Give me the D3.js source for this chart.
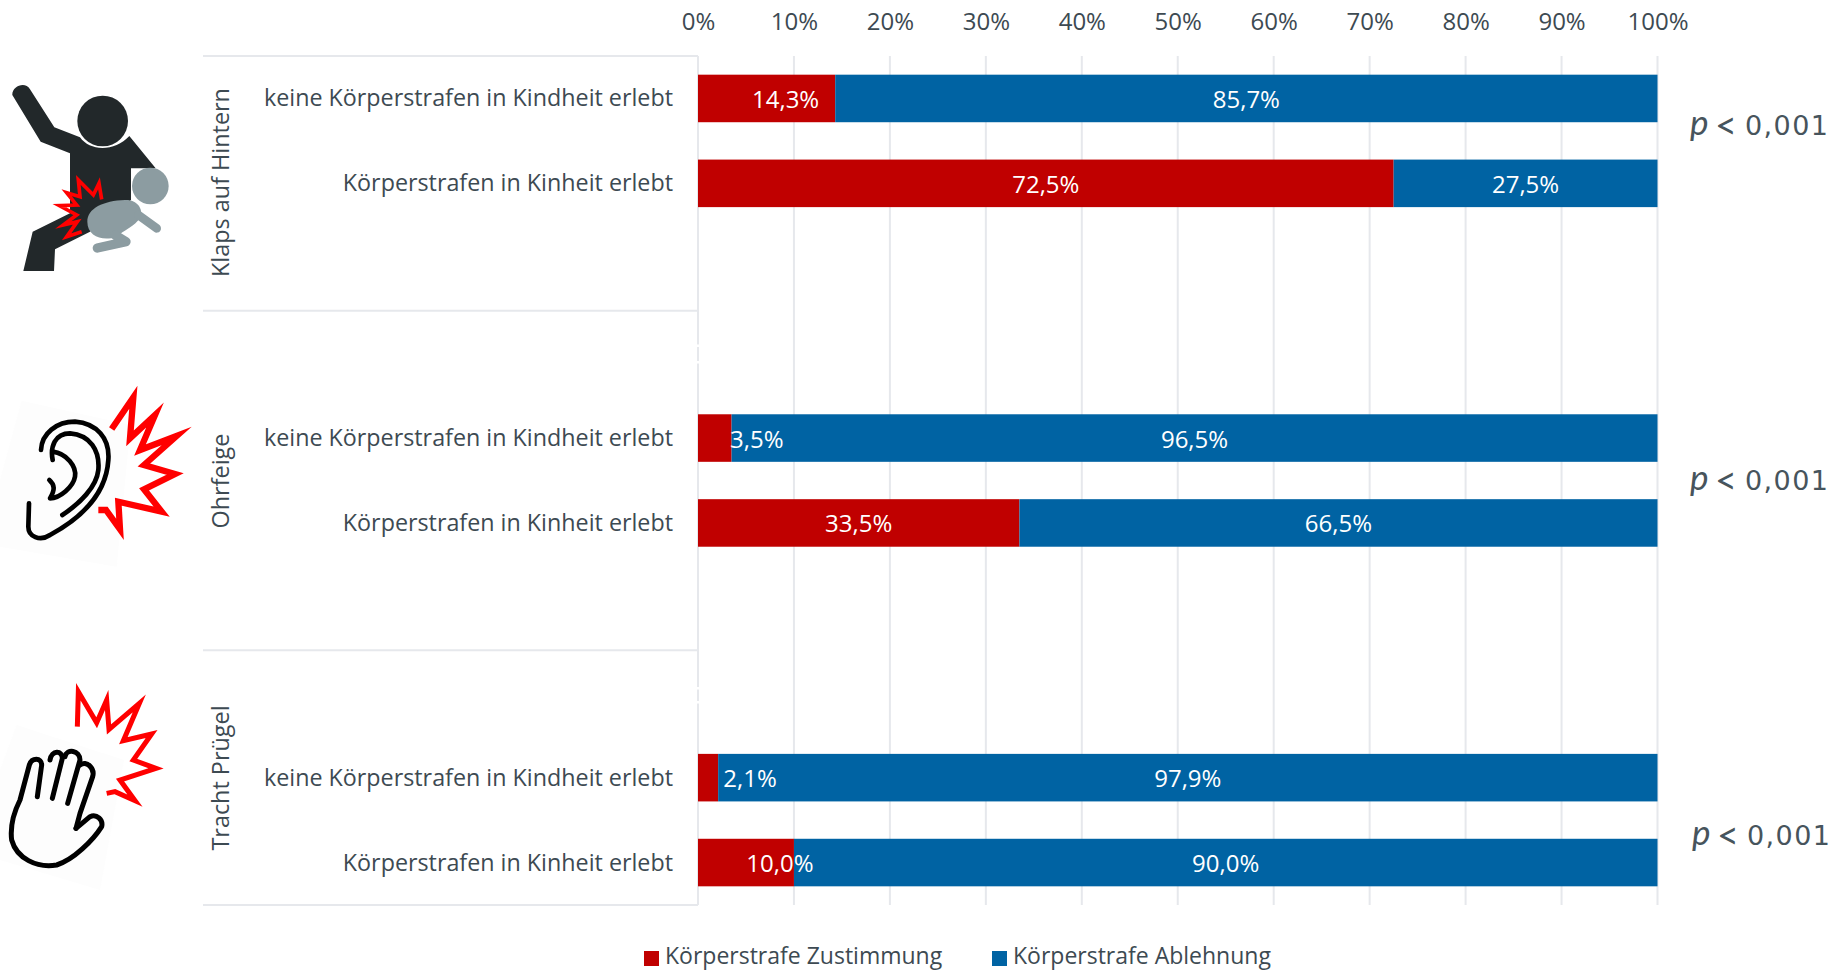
<!DOCTYPE html>
<html lang="de">
<head>
<meta charset="utf-8">
<title>Körperstrafen: Zustimmung und Ablehnung</title>
<script src="https://cdn.jsdelivr.net/npm/d3@7/dist/d3.min.js"></script>
<style>
  html, body { margin: 0; padding: 0; background: #fff; overflow: hidden; }
  svg { display: block; }
  text { font-family: "Open Sans", sans-serif; fill: #3d4a52; }
</style>
</head>
<body>
<svg id="chart" width="1843" height="970"></svg>
<script>
// Survey data: one pair of rows for each form of corporal punishment
const groups = ["Klaps auf Hintern", "Ohrfeige", "Tracht Prügel"];
const rowLabels = ["keine Körperstrafen in Kindheit erlebt", "Körperstrafen in Kinheit erlebt"];
const seriesNames = ["Körperstrafe Zustimmung", "Körperstrafe Ablehnung"];
const seriesColors = ["#c00000", "#0063a3"];
const zustimmung = [14.3, 72.5, 3.5, 33.5, 2.1, 10.0];
const ablehnung = [85.7, 27.5, 96.5, 66.5, 97.9, 90.0];
const pLabels = ["0,001", "0,001", "0,001"];
const tickValues = [0, 10, 20, 30, 40, 50, 60, 70, 80, 90, 100];
// Narrow segments carry their label further right, as px nudges per row
const zustimmungNudge = [19, 0, 42, 0, 42, 34];

const svg = d3.select("#chart");
const ink = "#3d4a52";
const gridColor = "#e6e8ec";

const x = d3.scaleLinear().domain([0, 100]).range([698, 1657.5]);

// Ten equal slots: rows sit in slots 0,1 / 4,5 / 8,9
const slots = d3.range(10);
const y = d3.scaleBand().domain(slots).range([56, 905]).paddingInner(0.44).paddingOuter(0.22);
const rowSlot = i => Math.floor(i / 2) * 4 + i % 2;
const slotEdge = s => 56 + s * y.step();

// Gridlines
svg.append("g").selectAll("line").data(tickValues).join("line")
  .attr("x1", d => x(d)).attr("x2", d => x(d))
  .attr("y1", 56).attr("y2", 905)
  .attr("stroke", gridColor).attr("stroke-width", 2);

// Small breaks in the zero line between the groups
svg.append("g").selectAll("rect").data([344.5, 361, 687, 701]).join("rect")
  .attr("x", x(0) - 2).attr("y", d => d)
  .attr("width", 4).attr("height", 2.5).attr("fill", "#fff");

// Group separators left of the plot
svg.append("g").selectAll("line").data([0, 3, 7, 10]).join("line")
  .attr("x1", 203).attr("x2", 698)
  .attr("y1", d => slotEdge(d)).attr("y2", d => slotEdge(d))
  .attr("stroke", gridColor).attr("stroke-width", 2);

// Top axis labels
const axis = d3.axisTop(x).tickValues(tickValues).tickSize(0).tickPadding(0).tickFormat(d => d + "%");
svg.append("g").attr("transform", "translate(0,30)").call(axis)
  .call(g => g.select(".domain").remove())
  .selectAll("text")
  .style("font-family", '"Open Sans", sans-serif')
  .style("font-size", "24px").style("fill", ink);

// Stacked bars
const rows = zustimmung.map((z, i) => ({ i, z, a: ablehnung[i] }));
const bars = svg.append("g");
bars.selectAll("rect.z").data(rows).join("rect").attr("class", "z")
  .attr("x", x(0)).attr("y", d => y(rowSlot(d.i)))
  .attr("width", d => x(d.z) - x(0)).attr("height", y.bandwidth())
  .attr("fill", seriesColors[0]);
bars.selectAll("rect.a").data(rows).join("rect").attr("class", "a")
  .attr("x", d => x(d.z)).attr("y", d => y(rowSlot(d.i)))
  .attr("width", d => x(100) - x(d.z)).attr("height", y.bandwidth())
  .attr("fill", seriesColors[1]);

// Value labels
const fmt = v => v.toFixed(1).replace(".", ",") + "%";
const valueLabel = (cls, cx, val) => svg.append("g").selectAll("text").data(rows).join("text")
  .attr("class", cls)
  .attr("x", cx).attr("y", d => y(rowSlot(d.i)) + y.bandwidth() / 2)
  .attr("text-anchor", "middle").attr("dominant-baseline", "central")
  .style("fill", "#fff").style("font-size", "24px")
  .text(d => fmt(val(d)));
valueLabel("vz", d => x(d.z / 2) + zustimmungNudge[d.i], d => d.z);
valueLabel("va", d => x(d.z + d.a / 2), d => d.a);

// Row labels
svg.append("g").selectAll("text").data(rows).join("text")
  .attr("x", 673).attr("y", d => y(rowSlot(d.i)) + y.bandwidth() / 2 - 1)
  .attr("text-anchor", "end").attr("dominant-baseline", "central")
  .style("font-size", "23.3px")
  .text(d => rowLabels[d.i % 2]);

// Rotated group labels
const groupCenters = [182.5, 481, 778];
svg.append("g").selectAll("text").data(groups).join("text")
  .attr("transform", (d, i) => `translate(220,${groupCenters[i]}) rotate(-90)`)
  .attr("text-anchor", "middle").attr("dominant-baseline", "central")
  .style("font-size", "23.4px")
  .text(d => d);

// Significance notes: italic p, then the threshold in wide x-height digits
const pPos = [[1690, 135], [1690, 490], [1692, 845]];
const pText = svg.append("g").selectAll("text").data(pLabels).join("text")
  .attr("y", (d, i) => pPos[i][1])
  .style("fill", "#47545c");
pText.append("tspan").attr("x", (d, i) => pPos[i][0])
  .style("font-family", "Lato, sans-serif").style("font-style", "italic").style("font-size", "35px")
  .text("p");
pText.append("tspan").attr("x", (d, i) => pPos[i][0] + 25).attr("dy", 4)
  .style("font-family", "Lato, sans-serif").style("font-size", "38px")
  .text("<");
pText.append("tspan").attr("x", (d, i) => pPos[i][0] + 55).attr("dy", -4)
  .style("font-family", '"DejaVu Sans", sans-serif').style("font-size", "27px").style("letter-spacing", "1.4px")
  .text(d => d);

// Legend
const legendX = [[644, 665], [992, 1013]];
const legend = svg.append("g").selectAll("g").data(seriesNames).join("g");
legend.append("rect").attr("x", (d, i) => legendX[i][0]).attr("y", 951)
  .attr("width", 15).attr("height", 15).attr("fill", (d, i) => seriesColors[i]);
legend.append("text").attr("x", (d, i) => legendX[i][1]).attr("y", 955)
  .attr("dominant-baseline", "central").style("font-size", "23px").text(d => d);

// Icons, drawn in a 3x local grid
const icon = (tx, ty) => svg.append("g").attr("transform", `translate(${tx},${ty}) scale(${1 / 3})`);
const outline = (g, d, color, w) => g.append("path").attr("d", d).attr("fill", "none")
  .attr("stroke", color).attr("stroke-width", w)
  .attr("stroke-linecap", "round").attr("stroke-linejoin", "round");
const burst = (g, pts, w) => g.append("polyline").attr("points", pts).attr("fill", "none")
  .attr("stroke", "#ff0000").attr("stroke-width", w)
  .attr("stroke-linejoin", "miter").attr("stroke-miterlimit", 12);

// Adult with child across the knee
const adult = icon(0, 40);
const dark = "#22282a", grey = "#8c9ca1";
adult.append("path").attr("fill", dark)
  .attr("d", "M37,165 C35,140 75,122 90,148 L163,262 L240,292 C270,335 345,335 388,288 L467,385 L393,385 L393,480 L270,575 L165,628 L162,693 L70,693 L98,575 L210,520 L210,340 L122,305 Z");
adult.append("circle").attr("cx", 308).attr("cy", 243).attr("r", 76).attr("fill", dark);
adult.append("circle").attr("cx", 451).attr("cy", 438).attr("r", 55).attr("fill", grey);
adult.append("path").attr("fill", grey)
  .attr("d", "M262,545 C262,505 310,482 375,480 C410,478 430,505 422,530 C405,560 370,570 350,590 C310,605 262,590 262,545 Z");
outline(adult, "M415,525 L470,565", grey, 26);
outline(adult, "M345,585 L378,605 L292,624", grey, 28);
burst(adult, "305,478 297,430 280,465 235,420 240,470 200,458 230,495 178,497 230,525 190,555 232,545 200,590 245,575", 11);

// Ear with burst
const ear = icon(0, 370);
ear.append("polygon").attr("points", "65,92 392,165 350,590 0,530 0,330").attr("fill", "#fdfdfd");
outline(ear, "M123,240 C125,190 170,155 225,155 C290,160 330,205 325,270 C320,350 270,430 150,495 C120,515 85,500 85,470 L87,400", "#000", 14);
outline(ear, "M158,270 C150,230 165,190 210,190 C270,195 300,240 295,300 C290,350 240,400 187,435", "#000", 14);
outline(ear, "M158,245 C200,250 230,290 225,320 C220,350 180,385 150,385 C165,360 165,345 148,330", "#000", 14);
burst(ear, "335,177 400,82 390,205 465,135 420,240 530,198 432,285 525,312 432,358 485,425 355,395 360,478 318,420 295,420", 19);

// Raised hand with burst
const hand = icon(0, 670);
hand.append("polygon").attr("points", "50,165 372,270 300,660 0,570 0,300").attr("fill", "#fdfdfd");
outline(hand, "M228,475 L270,440 C290,430 310,450 305,470 C280,510 220,570 170,585 C110,595 50,565 35,510 C30,470 40,430 60,390 L88,285 C95,262 125,262 125,285 L112,380", "#000", 15);
outline(hand, "M150,270 C155,240 187,240 187,265 L157,385", "#000", 15);
outline(hand, "M195,260 C200,235 240,240 240,270 L203,400", "#000", 15);
outline(hand, "M240,285 C260,270 285,295 278,320 L240,430 L228,475", "#000", 15);
burst(hand, "232,170 235,65 290,158 320,90 327,178 418,100 370,212 455,192 400,270 468,295 360,330 405,392 345,365 320,370", 15);
</script>
</body>
</html>
